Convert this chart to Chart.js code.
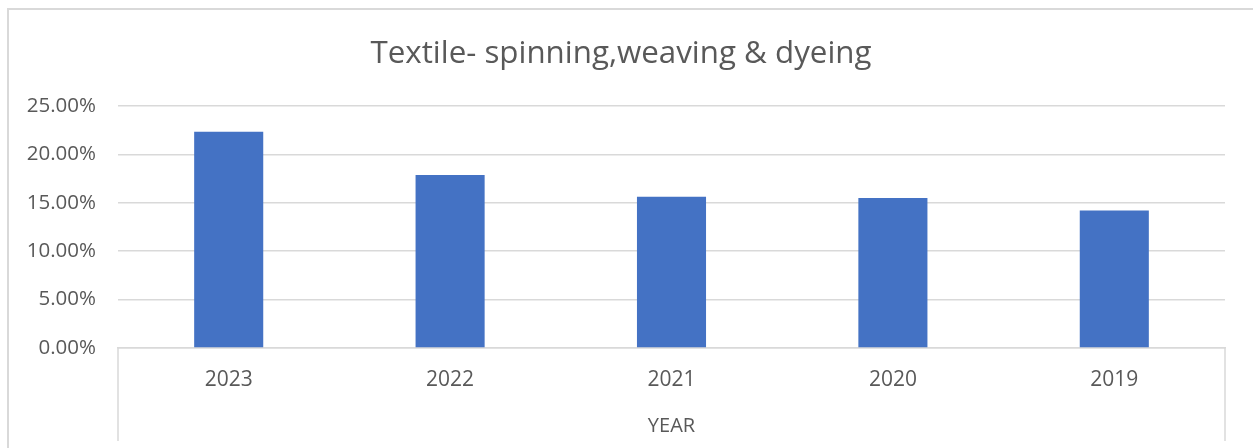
<!DOCTYPE html>
<html>
<head>
<meta charset="utf-8">
<title>Textile- spinning,weaving & dyeing</title>
<script src="https://cdn.jsdelivr.net/npm/chart.js@4.4.1/dist/chart.umd.min.js"></script>
<style>
  html, body { margin: 0; padding: 0; background: #ffffff; overflow: hidden; }
  #frame {
    position: absolute; left: 7px; top: 8px; width: 1300px; height: 500px;
    border-left: 2px solid #d9d9d9; border-top: 2px solid #d9d9d9; box-sizing: border-box;
  }
  #wrap { position: absolute; left: 0; top: 0; width: 1253px; height: 448px; }
</style>
</head>
<body>
<div id="frame"></div>
<div id="wrap"><canvas id="chart"></canvas></div>
<script>
// Share of the sector by year
const categories = ['2023', '2022', '2021', '2020', '2019'];
const shares = [0.2235, 0.1787, 0.1563, 0.1550, 0.1422];
const yTicks = [0, 0.05, 0.10, 0.15, 0.20, 0.25];
const chartTitle = 'Textile- spinning,weaving & dyeing';
const axisTitle = 'YEAR';

const textColor = '#595959';
const lineColor = '#d9d9d9';

// Category-axis frame: outer dividers below the plot, like a grouped category axis
const groupFrame = {
  id: 'groupFrame',
  afterDraw(chart) {
    const x = chart.scales.x;
    const ctx = chart.ctx;
    ctx.save();
    ctx.strokeStyle = lineColor;
    ctx.lineWidth = 1.5;
    ctx.beginPath();
    ctx.moveTo(x.left, x.top);
    ctx.lineTo(x.left, x.bottom);
    ctx.moveTo(x.right, x.top);
    ctx.lineTo(x.right, x.bottom);
    ctx.stroke();
    ctx.restore();
  }
};

new Chart(document.getElementById('chart'), {
  type: 'bar',
  data: {
    labels: categories,
    datasets: [{
      data: shares,
      backgroundColor: '#4472c4',
      borderWidth: 0,
      categoryPercentage: 1,
      barPercentage: 0.312
    }]
  },
  options: {
    responsive: true,
    maintainAspectRatio: false,
    animation: false,
    layout: { padding: { left: 0, right: 11, top: 0, bottom: 7 } },
    plugins: {
      legend: { display: false },
      tooltip: { enabled: false },
      title: {
        display: true,
        text: chartTitle,
        color: textColor,
        font: { family: 'Open Sans', size: 31.3, weight: 'normal', lineHeight: 1.2 },
        padding: { top: 35.5, bottom: 33 }
      }
    },
    scales: {
      x: {
        grid: { display: false },
        border: { display: true, color: lineColor, width: 1.5 },
        ticks: {
          color: textColor,
          font: { family: 'Open Sans', size: 21 },
          padding: 11,
          maxRotation: 0
        },
        title: {
          display: true,
          text: axisTitle,
          color: textColor,
          font: { family: 'Open Sans', size: 20 },
          padding: { top: 0, bottom: 3 }
        },
        afterFit(s) { s.height = 93; }
      },
      y: {
        min: 0,
        max: 0.25,
        afterBuildTicks(s) { s.ticks = yTicks.map(v => ({ value: v })); },
        grid: { color: lineColor, lineWidth: 1.5, drawTicks: false },
        border: { display: false },
        ticks: {
          color: textColor,
          font: { family: 'Open Sans', size: 20.5 },
          padding: 22,
          callback: v => (v * 100).toFixed(2) + '%'
        },
        afterFit(s) { s.width = 118; }
      },
      // empty right-hand margin beside the plot
      yMargin: {
        type: 'linear',
        position: 'right',
        display: true,
        grid: { display: false, drawTicks: false },
        border: { display: false },
        ticks: { display: false },
        afterFit(s) { s.width = 17; }
      }
    }
  },
  plugins: [groupFrame]
});
</script>
</body>
</html>
